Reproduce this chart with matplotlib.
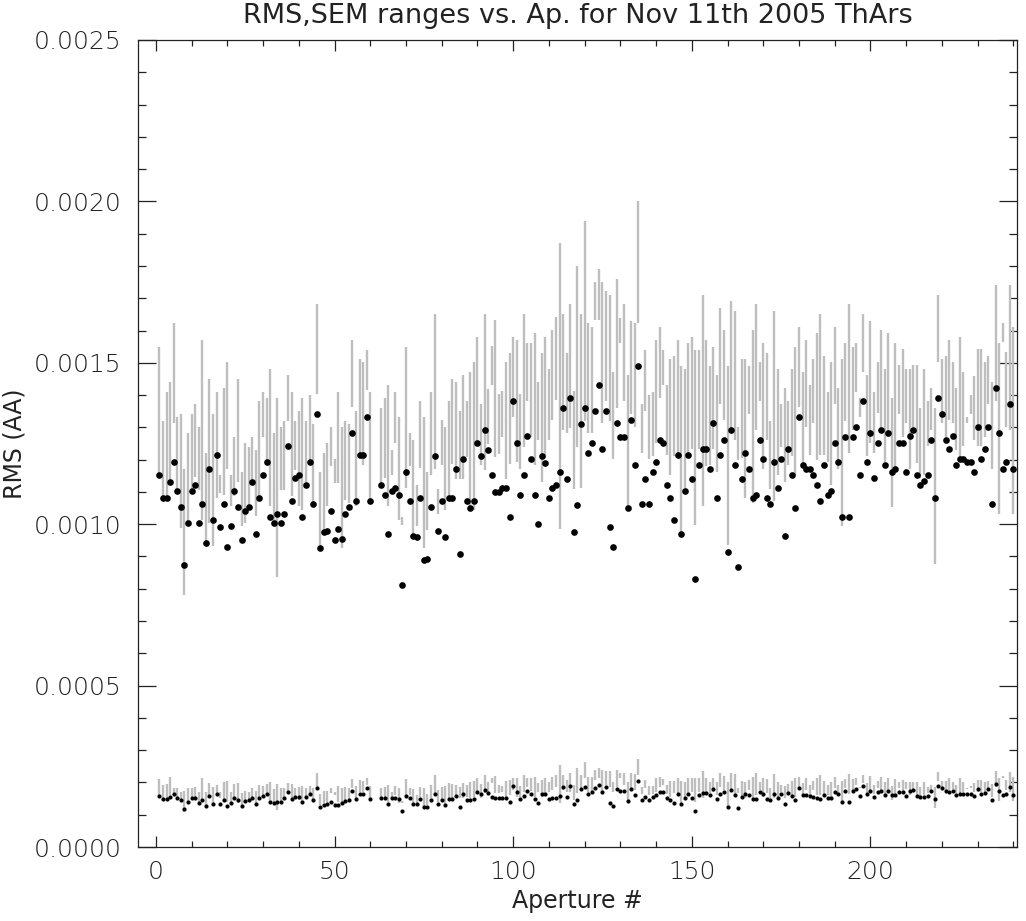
import numpy as np
import matplotlib
matplotlib.use("Agg")
import matplotlib.pyplot as plt
from matplotlib.ticker import MultipleLocator, FormatStrFormatter

nan = np.nan

# aperture numbers (61 and 62 have no data)
aperture = np.arange(1, 241)

# RMS per aperture, units of 1e-4 AA
rms_dot = [11.53, 10.82, 10.82, 11.32, 11.92, 11.02, 10.53, 8.74, 10.03, 11.02,
           11.23, 10.03, 10.63, 9.42, 11.72, 10.13, 12.13, 9.91, 10.63, 9.30,
           9.96, 11.02, 10.53, 9.51, 10.42, 10.53, 11.32, 9.69, 10.82, 11.53,
           11.92, 10.21, 10.03, 10.32, 10.03, 10.32, 12.43, 10.72, 11.42, 11.53,
           10.21, 11.22, 11.92, 10.62, 13.42, 9.25, 9.75, 9.80, 10.42, 9.51,
           9.85, 9.55, 10.32, 10.53, 12.82, 10.72, 12.13, 12.13, 13.31, 10.72,
           nan, nan, 11.22, 10.92, 9.69, 11.02, 11.12, 10.92, 8.11, 11.62,
           10.72, 9.62, 9.59, 10.82, 8.88, 8.93, 10.53, 12.11, 9.78, 10.71,
           9.59, 10.82, 10.82, 11.71, 9.07, 12.01, 10.71, 10.51, 10.71, 12.51,
           12.11, 12.91, 12.31, 11.51, 11.01, 11.01, 11.11, 11.11, 10.21, 13.81,
           12.51, 10.91, 11.51, 12.72, 12.01, 10.91, 10.01, 12.11, 11.91, 10.82,
           11.11, 11.21, 11.61, 13.61, 11.41, 13.91, 9.75, 10.61, 13.11, 13.61,
           12.22, 12.52, 13.52, 14.32, 12.32, 13.52, 9.92, 9.30, 13.12, 12.71,
           12.71, 10.51, 13.22, 11.82, 14.91, 10.62, 11.41, 10.62, 11.62, 11.92,
           12.61, 12.52, 11.22, 10.82, 10.12, 12.13, 9.69, 11.02, 12.13, 11.41,
           8.30, 11.82, 12.32, 12.32, 11.71, 13.12, 10.82, 12.13, 12.61, 9.13,
           12.92, 11.82, 8.66, 11.41, 12.22, 11.71, 10.82, 10.92, 12.61, 12.02,
           10.82, 10.62, 11.92, 11.11, 12.02, 9.65, 12.32, 11.52, 10.51, 13.31,
           11.82, 11.71, 11.71, 11.52, 11.22, 10.72, 11.82, 10.92, 11.02, 12.52,
           11.92, 10.21, 12.71, 10.21, 12.71, 13.01, 11.52, 13.82, 11.92, 12.82,
           11.42, 12.52, 12.92, 11.83, 12.82, 11.62, 11.72, 12.52, 12.52, 11.62,
           12.72, 12.92, 11.53, 11.23, 11.33, 11.53, 12.62, 10.82, 13.92, 13.42,
           12.62, 12.32, 12.72, 11.83, 12.02, 12.02, 11.92, 11.92, 11.62, 13.02,
           12.02, 12.32, 13.02, 10.63, 14.22, 12.82, 11.72, 11.92, 13.73, 11.72]

rms_hi = [15.50, 13.21, 14.11, 14.41, 16.23, 13.31, 13.42, 11.71, 12.82, 13.42,
          13.72, 13.01, 15.71, 12.20, 14.51, 13.42, 14.11, 11.52, 14.21, 15.01,
          11.52, 12.71, 14.51, 11.62, 12.51, 12.40, 12.71, 12.30, 13.82, 14.11,
          13.92, 14.81, 12.82, 13.92, 13.01, 13.21, 14.62, 14.11, 13.21, 13.51,
          13.92, 13.21, 14.01, 13.11, 16.81, 11.62, 12.20, 12.51, 13.01, 12.01,
          14.11, 13.01, 13.21, 13.11, 15.71, 13.51, 15.11, 15.01, 15.40, 14.11,
          nan, nan, 13.61, 13.92, 14.32, 12.30, 14.11, 13.31, 10.21, 15.50,
          12.82, 12.61, 11.22, 13.82, 13.31, 11.62, 14.11, 16.51, 11.10, 13.22,
          13.02, 13.81, 14.51, 14.41, 13.51, 14.62, 13.81, 14.72, 15.02, 15.81,
          13.71, 16.51, 14.20, 15.52, 16.32, 14.02, 14.12, 15.02, 15.31, 15.81,
          15.70, 14.02, 16.51, 15.60, 15.60, 15.91, 14.41, 15.31, 15.81, 14.81,
          16.01, 16.41, 18.71, 16.51, 15.31, 16.82, 14.12, 18.00, 16.51, 19.40,
          16.23, 16.12, 17.50, 17.90, 17.50, 17.21, 17.11, 14.73, 17.60, 16.40,
          16.81, 14.61, 16.30, 16.23, 20.00, 13.72, 15.40, 14.01, 14.11, 15.71,
          16.12, 15.40, 14.32, 15.11, 15.21, 15.71, 14.91, 14.81, 15.61, 15.81,
          15.40, 15.40, 17.11, 15.71, 14.91, 15.50, 14.61, 16.71, 16.02, 14.91,
          16.91, 16.61, 13.01, 15.11, 15.11, 14.91, 16.02, 16.81, 15.01, 15.61,
          15.31, 13.21, 16.61, 14.81, 13.72, 14.21, 13.82, 14.81, 15.50, 16.11,
          14.71, 15.71, 14.32, 15.11, 15.92, 16.51, 15.21, 14.11, 15.01, 16.11,
          14.21, 15.11, 15.61, 16.81, 15.50, 15.61, 13.92, 16.51, 14.61, 16.31,
          14.11, 15.02, 16.02, 14.81, 15.92, 13.92, 15.62, 14.92, 15.42, 14.81,
          14.81, 14.92, 14.92, 13.61, 14.81, 13.82, 14.21, 13.61, 17.11, 15.12,
          15.21, 15.71, 15.02, 14.21, 15.81, 14.71, 13.31, 14.01, 14.60, 15.42,
          15.42, 15.02, 15.21, 14.42, 17.42, 15.62, 16.23, 15.32, 17.42, 16.12]

rms_lo = [11.53, 10.86, 10.86, 11.37, 13.13, 11.06, 9.87, 7.81, 10.03, 11.06,
          11.47, 11.06, 10.13, 9.41, 10.03, 9.31, 10.80, 10.96, 10.91, 11.72,
          10.55, 10.86, 11.32, 9.93, 10.03, 10.55, 11.32, 10.24, 10.86, 12.71,
          11.89, 10.55, 10.03, 8.38, 11.06, 11.06, 13.21, 10.86, 11.68, 10.55,
          10.44, 11.32, 11.99, 10.65, 14.03, 9.31, 9.82, 10.55, 11.79, 11.27,
          11.27, 9.25, 10.75, 10.65, 13.64, 10.55, 12.10, 11.84, 14.16, 10.75,
          nan, nan, 11.22, 11.42, 10.55, 11.53, 12.51, 10.13, 9.98, 11.11,
          11.79, 9.67, 9.93, 11.73, 9.25, 9.82, 11.53, 11.72, 10.33, 11.83,
          10.43, 10.85, 11.88, 11.41, 11.41, 11.41, 12.09, 10.43, 10.43, 12.50,
          11.83, 11.67, 12.50, 14.31, 12.09, 12.19, 12.71, 11.41, 11.88, 13.33,
          11.93, 11.71, 12.40, 13.82, 12.71, 11.83, 12.60, 11.31, 12.09, 12.60,
          13.22, 13.84, 9.84, 12.91, 12.81, 12.99, 11.10, 12.40, 11.11, 13.21,
          12.82, 12.82, 16.33, 16.33, 13.13, 13.82, 13.21, 12.01, 13.61, 15.61,
          13.82, 10.55, 13.42, 13.02, 16.23, 12.20, 13.52, 12.01, 12.10, 12.51,
          13.92, 14.32, 12.13, 11.53, 12.10, 12.13, 9.67, 11.11, 12.10, 12.32,
          9.98, 12.32, 10.55, 11.79, 11.84, 12.32, 11.63, 13.72, 13.23, 9.36,
          12.92, 12.61, 11.99, 12.04, 10.80, 13.42, 10.65, 12.92, 13.82, 11.71,
          12.61, 11.09, 10.72, 11.53, 12.40, 11.32, 11.84, 12.10, 11.51, 13.64,
          11.79, 13.02, 12.13, 13.13, 11.99, 12.13, 12.13, 11.92, 11.22, 13.72,
          11.71, 9.93, 13.21, 12.20, 12.92, 14.11, 13.31, 14.73, 12.12, 12.51,
          12.22, 13.44, 12.82, 11.94, 12.71, 10.52, 11.73, 13.42, 12.71, 13.13,
          11.72, 13.02, 11.91, 11.42, 11.53, 12.41, 12.92, 8.77, 15.02, 13.13,
          12.71, 13.23, 13.13, 12.30, 12.02, 12.41, 13.13, 13.42, 12.61, 12.43,
          12.43, 12.71, 13.73, 11.72, 13.82, 10.32, 15.63, 13.02, 12.92, 10.32]

# SEM per aperture, units of 1e-4 AA
sem_dot = [1.58, 1.48, 1.48, 1.55, 1.63, 1.53, 1.45, 1.17, 1.38, 1.51,
           1.53, 1.37, 1.45, 1.28, 1.59, 1.34, 1.65, 1.34, 1.45, 1.27,
           1.35, 1.51, 1.45, 1.28, 1.42, 1.45, 1.53, 1.32, 1.51, 1.58,
           1.63, 1.38, 1.37, 1.38, 1.40, 1.51, 1.69, 1.49, 1.56, 1.56,
           1.38, 1.54, 1.63, 1.46, 1.82, 1.25, 1.30, 1.32, 1.40, 1.30,
           1.30, 1.35, 1.42, 1.45, 1.74, 1.48, 1.65, 1.65, 1.82, 1.49,
           nan, nan, 1.53, 1.51, 1.32, 1.51, 1.51, 1.50, 1.11, 1.59,
           1.51, 1.32, 1.32, 1.48, 1.23, 1.23, 1.46, 1.64, 1.33, 1.46,
           1.30, 1.48, 1.48, 1.59, 1.24, 1.63, 1.46, 1.46, 1.48, 1.71,
           1.65, 1.77, 1.66, 1.56, 1.51, 1.51, 1.51, 1.51, 1.38, 1.89,
           1.69, 1.50, 1.57, 1.73, 1.63, 1.50, 1.36, 1.64, 1.63, 1.49,
           1.51, 1.51, 1.57, 1.86, 1.55, 1.89, 1.32, 1.46, 1.79, 1.86,
           1.65, 1.69, 1.83, 1.93, 1.69, 1.85, 1.35, 1.27, 1.80, 1.73,
           1.73, 1.43, 1.80, 1.60, 2.04, 1.46, 1.56, 1.46, 1.56, 1.61,
           1.72, 1.71, 1.53, 1.46, 1.37, 1.65, 1.32, 1.53, 1.65, 1.53,
           1.13, 1.61, 1.67, 1.67, 1.60, 1.79, 1.48, 1.65, 1.71, 1.25,
           1.77, 1.61, 1.20, 1.56, 1.65, 1.60, 1.50, 1.50, 1.71, 1.63,
           1.49, 1.45, 1.63, 1.51, 1.65, 1.32, 1.68, 1.58, 1.45, 1.82,
           1.61, 1.61, 1.59, 1.56, 1.53, 1.48, 1.61, 1.51, 1.51, 1.69,
           1.63, 1.40, 1.73, 1.40, 1.75, 1.79, 1.57, 1.89, 1.63, 1.75,
           1.56, 1.69, 1.75, 1.61, 1.75, 1.60, 1.60, 1.70, 1.70, 1.59,
           1.75, 1.77, 1.57, 1.55, 1.55, 1.57, 1.73, 1.48, 1.89, 1.84,
           1.73, 1.69, 1.73, 1.61, 1.64, 1.64, 1.64, 1.63, 1.59, 1.79,
           1.64, 1.68, 1.79, 1.46, 1.94, 1.75, 1.61, 1.64, 1.87, 1.60]

sem_hi = [2.11, 1.92, 1.94, 2.18, 1.84, 1.82, 1.71, 1.73, 1.82, 1.84,
          1.87, 1.69, 2.13, 1.71, 1.97, 1.86, 1.92, 1.71, 2.02, 2.04,
          1.71, 1.94, 1.97, 1.66, 1.73, 1.71, 1.84, 1.73, 1.92, 1.90,
          1.96, 2.00, 1.80, 1.94, 1.82, 1.82, 1.97, 1.94, 1.82, 1.87,
          1.90, 1.82, 1.90, 1.84, 2.28, 1.63, 1.73, 1.75, 1.82, 1.71,
          1.90, 1.82, 1.87, 1.82, 2.11, 1.90, 2.09, 2.06, 2.13, 1.90,
          nan, nan, 1.84, 1.87, 1.92, 1.71, 1.90, 1.82, 1.42, 2.11,
          1.82, 1.80, 1.61, 1.87, 1.82, 1.63, 1.92, 2.23, 1.77, 1.87,
          1.90, 1.97, 1.95, 1.92, 1.87, 1.97, 1.92, 2.02, 2.06, 2.15,
          1.94, 2.23, 2.00, 2.15, 2.21, 1.92, 1.90, 2.04, 2.09, 2.15,
          2.13, 1.90, 2.23, 2.15, 2.13, 2.17, 1.97, 2.09, 2.15, 2.02,
          2.17, 2.23, 2.54, 2.23, 2.08, 2.28, 1.92, 2.44, 2.23, 2.64,
          2.18, 2.18, 2.40, 2.44, 2.39, 2.35, 2.35, 2.02, 2.39, 2.28,
          2.28, 2.02, 2.28, 2.25, 2.72, 1.86, 2.09, 1.88, 1.90, 2.13,
          2.18, 2.11, 1.92, 2.04, 2.04, 2.13, 2.04, 2.02, 2.13, 2.13,
          2.13, 2.13, 2.35, 2.13, 2.02, 2.13, 2.00, 2.28, 2.21, 2.02,
          2.28, 2.25, 1.82, 2.04, 2.02, 2.08, 2.18, 2.28, 2.02, 2.13,
          2.11, 1.82, 2.25, 2.02, 1.92, 1.90, 1.94, 2.04, 2.13, 2.18,
          1.99, 2.13, 1.92, 2.04, 2.15, 2.23, 2.06, 1.92, 2.02, 2.18,
          1.92, 2.04, 2.11, 2.27, 2.11, 2.13, 1.87, 2.23, 1.98, 2.21,
          1.92, 2.05, 2.18, 2.02, 2.13, 1.90, 2.11, 2.02, 2.08, 2.02,
          2.02, 2.02, 2.02, 1.86, 2.02, 1.87, 1.92, 1.87, 2.33, 2.06,
          2.06, 2.13, 2.02, 1.92, 2.13, 2.00, 1.82, 1.89, 1.97, 2.09,
          2.09, 2.02, 2.06, 1.94, 2.35, 2.13, 2.21, 2.08, 2.33, 2.18]

sem_lo = [1.59, 1.51, 1.51, 1.61, 1.61, 1.51, 1.40, 1.09, 1.40, 1.56,
          1.46, 1.40, 1.40, 1.30, 1.56, 1.30, 1.61, 1.51, 1.46, 1.40,
          1.40, 1.49, 1.35, 1.30, 1.40, 1.46, 1.53, 1.35, 1.51, 1.61,
          1.63, 1.35, 1.40, 1.15, 1.40, 1.46, 1.71, 1.51, 1.56, 1.46,
          1.40, 1.51, 1.61, 1.46, 1.87, 1.30, 1.35, 1.40, 1.66, 1.61,
          1.40, 1.35, 1.46, 1.40, 1.82, 1.51, 1.71, 1.71, 1.92, 1.46,
          nan, nan, 1.51, 1.53, 1.40, 1.56, 1.61, 1.35, 1.35, 1.56,
          1.61, 1.30, 1.35, 1.56, 1.20, 1.30, 1.51, 1.61, 1.40, 1.46,
          1.32, 1.51, 1.51, 1.61, 1.51, 1.51, 1.56, 1.51, 1.56, 1.71,
          1.51, 1.66, 1.71, 1.97, 1.66, 1.66, 1.71, 1.56, 1.61, 1.77,
          1.56, 1.56, 1.69, 1.87, 1.73, 1.56, 1.71, 1.56, 1.61, 1.71,
          1.77, 1.87, 1.35, 1.77, 1.71, 1.71, 1.46, 1.66, 1.82, 2.13,
          1.69, 1.71, 2.08, 2.13, 1.71, 1.92, 1.87, 1.69, 1.87, 2.13,
          1.92, 1.42, 1.82, 1.77, 2.23, 1.63, 1.82, 1.61, 1.63, 1.69,
          1.87, 1.92, 1.63, 1.56, 1.66, 1.66, 1.35, 1.56, 1.66, 1.71,
          1.40, 1.71, 1.53, 1.66, 1.66, 1.71, 1.61, 1.87, 1.77, 1.25,
          1.77, 1.61, 1.66, 1.56, 1.51, 1.77, 1.51, 1.61, 1.77, 1.56,
          1.66, 1.51, 1.51, 1.56, 1.71, 1.51, 1.61, 1.61, 1.56, 1.82,
          1.61, 1.77, 1.61, 1.77, 1.61, 1.61, 1.61, 1.61, 1.56, 1.82,
          1.61, 1.38, 1.82, 1.63, 1.73, 1.92, 1.82, 1.97, 1.63, 1.69,
          1.63, 1.82, 1.69, 1.61, 1.69, 1.46, 1.61, 1.82, 1.69, 1.80,
          1.61, 1.79, 1.61, 1.56, 1.61, 1.66, 1.73, 1.20, 2.04, 1.82,
          1.71, 1.77, 1.79, 1.66, 1.61, 1.69, 1.80, 1.82, 1.71, 1.69,
          1.71, 1.71, 1.82, 1.56, 1.87, 1.42, 2.13, 1.77, 1.71, 1.42]

scale = 1e-4
rms_dot = np.array(rms_dot) * scale
rms_hi = np.array(rms_hi) * scale
rms_lo = np.array(rms_lo) * scale
sem_dot = np.array(sem_dot) * scale
sem_hi = np.array(sem_hi) * scale
sem_lo = np.array(sem_lo) * scale

ink = "#222222"
plt.rcParams["font.family"] = ["DejaVu Sans"]
plt.rcParams["font.weight"] = "light"

fig = plt.figure(figsize=(10.26, 9.21), dpi=100)
ax = fig.add_axes([0.1345, 0.0803, 0.8567, 0.8763])

# range bars in grey, values as black dots
ok = ~np.isnan(rms_hi)
ax.vlines(aperture[ok], rms_lo[ok], rms_hi[ok], colors="#bebebe", linewidth=1.7)
ax.vlines(aperture[ok], sem_lo[ok], sem_hi[ok], colors="#bebebe", linewidth=1.7)
ax.plot(aperture, rms_dot, "o", color="black", markersize=4.8, markeredgewidth=0)
ax.plot(aperture, sem_dot, "o", color="black", markersize=3.0, markeredgewidth=0)

ax.set_xlim(-5, 241)
ax.set_ylim(0, 0.0025)
ax.xaxis.set_major_locator(MultipleLocator(50))
ax.xaxis.set_minor_locator(MultipleLocator(10))
ax.yaxis.set_major_locator(MultipleLocator(0.0005))
ax.yaxis.set_minor_locator(MultipleLocator(0.0001))
ax.yaxis.set_major_formatter(FormatStrFormatter("%.4f"))

for s in ax.spines.values():
    s.set_color(ink)
    s.set_linewidth(0.9)
ax.tick_params(axis="both", which="both", direction="in", top=True, right=True,
               colors=ink, labelsize=18, width=0.9)
ax.tick_params(axis="y", which="major", length=13, pad=12)
ax.tick_params(axis="y", which="minor", length=6)
ax.tick_params(axis="x", which="major", length=8, pad=9)
ax.tick_params(axis="x", which="minor", length=4)

ax.set_title("RMS,SEM ranges vs. Ap. for Nov 11th 2005 ThArs", fontsize=19.5,
             color=ink, pad=12)
ax.set_xlabel("Aperture #", fontsize=17, color=ink, labelpad=4)
ax.set_ylabel("RMS (AA)", fontsize=17, color=ink, va="center")
ax.yaxis.set_label_coords(-0.140, 0.5)

fig.savefig("out.png", dpi=100)
